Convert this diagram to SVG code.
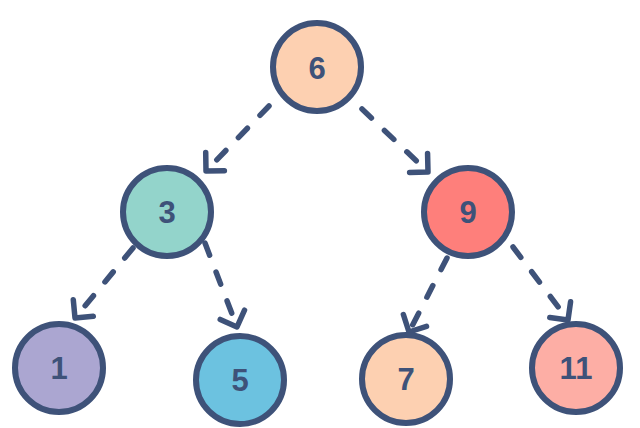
<svg xmlns="http://www.w3.org/2000/svg" width="640" height="428" viewBox="0 0 640 428">
<style>
.node circle{stroke:#3e5279;stroke-width:6}
.node text{font-family:"Liberation Sans",Arial,sans-serif;font-weight:bold;font-size:31px;fill:#3e5279;text-anchor:middle}
.edge{fill:none;stroke:#3e5279;stroke-width:5.5;stroke-linecap:round;stroke-dasharray:13 18;marker-end:url(#chev)}
</style>
<defs>
<marker id="chev" markerUnits="userSpaceOnUse" viewBox="-20 -20 26 40" refX="0" refY="0" markerWidth="26" markerHeight="40" orient="auto" overflow="visible">
<path d="M-13,-13 L0,0 L-13,13" fill="none" stroke="#3e5279" stroke-width="5.5" stroke-linecap="round" stroke-linejoin="round"/>
</marker>
</defs>
<rect width="640" height="428" fill="#ffffff"/>
<g id="edges">
<path class="edge" d="M269,106 L206,171"/>
<path class="edge" d="M362,109 L428,172"/>
<path class="edge" d="M133,248 L75,318"/>
<path class="edge" d="M205,243 L237,327"/>
<path class="edge" d="M447,258 L409,332"/>
<path class="edge" d="M513,247 L568,320"/>
</g>
<g id="n6" class="node"><circle cx="317" cy="67" r="44" fill="#fdd0b1"/><text x="317" y="79">6</text></g>
<g id="n3" class="node"><circle cx="167" cy="212" r="44" fill="#93d4cb"/><text x="167" y="223">3</text></g>
<g id="n9" class="node"><circle cx="468" cy="212" r="44" fill="#fe7f7b"/><text x="468" y="223">9</text></g>
<g id="n1" class="node"><circle cx="59" cy="368" r="44" fill="#aba6d1"/><text x="59" y="379">1</text></g>
<g id="n5" class="node"><circle cx="240" cy="380" r="44" fill="#6cc2e0"/><text x="240" y="391">5</text></g>
<g id="n7" class="node"><circle cx="406" cy="379" r="44" fill="#fdd0b1"/><text x="406" y="390">7</text></g>
<g id="n11" class="node"><circle cx="576" cy="368" r="44" fill="#fdaea5"/><text x="576" y="379">11</text></g>
</svg>
